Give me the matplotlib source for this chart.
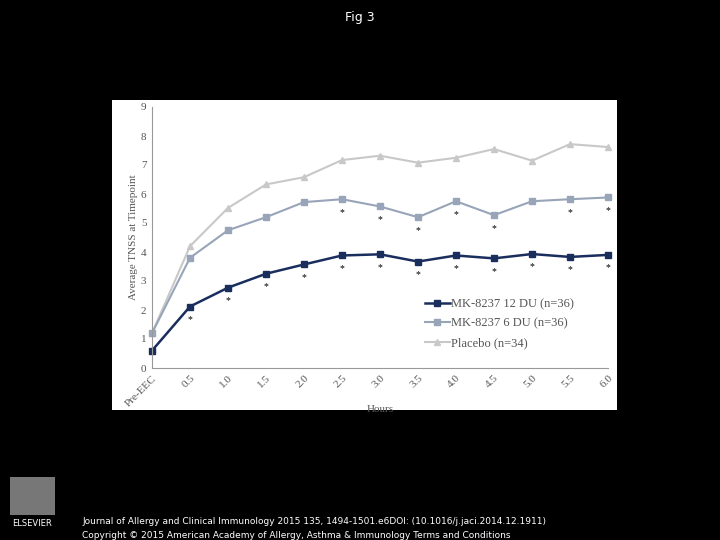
import matplotlib
matplotlib.use("Agg")
import matplotlib.pyplot as plt
from matplotlib.patches import Rectangle

cats = ["Pre-EEC","0.5","1.0","1.5","2.0","2.5","3.0","3.5","4.0","4.5","5.0","5.5","6.0"]
dose12 = [0.6,2.12,2.77,3.25,3.57,3.88,3.92,3.67,3.88,3.78,3.93,3.83,3.90]
dose6 = [1.2,3.8,4.75,5.2,5.72,5.82,5.57,5.2,5.75,5.27,5.75,5.82,5.88]
placebo = [1.2,4.2,5.52,6.33,6.58,7.17,7.32,7.08,7.25,7.55,7.15,7.72,7.62]
star6_idx = [5,6,7,8,9,11,12]
star12_idx = [1,2,3,4,5,6,7,8,9,10,11,12]

W,H = 720,540
fig = plt.figure(figsize=(7.2,5.4), dpi=100, facecolor="black")
fig.add_artist(Rectangle((112/W,1-410/H),505/W,310/H, transform=fig.transFigure,
                         facecolor="white", edgecolor="none", zorder=-10))
ax = fig.add_axes([152/W, 1-368/H, 456/W, 261/H])
ax.set_facecolor("white")
x = list(range(len(cats)))
ax.plot(x, placebo, color="#c8c8c8", marker="^", ms=5, lw=1.5, label="Placebo (n=34)", clip_on=False)
ax.plot(x, dose6, color="#98a4b8", marker="s", ms=5, lw=1.5, label="MK-8237 6 DU (n=36)", clip_on=False)
ax.plot(x, dose12, color="#1a2e5e", marker="s", ms=5, lw=1.8, label="MK-8237 12 DU (n=36)", clip_on=False)
for i in star6_idx:
    ax.text(i, dose6[i]-0.45, "*", ha="center", va="center", fontsize=7, family="Liberation Serif")
for i in star12_idx:
    ax.text(i, dose12[i]-0.45, "*", ha="center", va="center", fontsize=7, family="Liberation Serif")
ax.set_xlim(0,12); ax.set_ylim(0,9)
ax.set_yticks(range(10))
ax.set_xticks(x); ax.set_xticklabels(cats, rotation=45, ha="right", rotation_mode="anchor")
for lab in ax.get_xticklabels()+ax.get_yticklabels():
    lab.set_family("Liberation Serif"); lab.set_fontsize(8); lab.set_color("#555555")
ax.tick_params(length=0, pad=4)
for s in ["top","right"]: ax.spines[s].set_visible(False)
for s in ["left","bottom"]: ax.spines[s].set_color("#999999")
ax.set_xlabel("Hours", family="Liberation Serif", fontsize=8, color="#555555", labelpad=-2)
ax.set_ylabel("Average TNSS at Timepoint", family="Liberation Serif", fontsize=8, color="#555555", labelpad=2)
h,l = ax.get_legend_handles_labels()
ax.legend(h[::-1], l[::-1], loc="lower right", bbox_to_anchor=(0.95,0.03), frameon=False,
          prop={"family":"Liberation Serif","size":9}, labelcolor="#555555", handlelength=2,
          handletextpad=0.1, labelspacing=0.6)

fig.text(0.5, 1-18/H, "Fig 3", color="white", ha="center", va="center", fontsize=9)
fig.text(82/W, 1-522/H, "Journal of Allergy and Clinical Immunology 2015 135, 1494-1501.e6DOI: (10.1016/j.jaci.2014.12.1911)",
         color="white", fontsize=6.5, va="center")
fig.text(82/W, 1-535/H, "Copyright © 2015 American Academy of Allergy, Asthma & Immunology Terms and Conditions",
         color="white", fontsize=6.5, va="center")
fig.add_artist(Rectangle((10/W,1-515/H),45/W,38/H, transform=fig.transFigure, facecolor="#777777", edgecolor="none"))
fig.text(32/W, 1-523/H, "ELSEVIER", color="white", ha="center", va="center", fontsize=6)
fig.savefig("out.png", dpi=100, facecolor="black")
